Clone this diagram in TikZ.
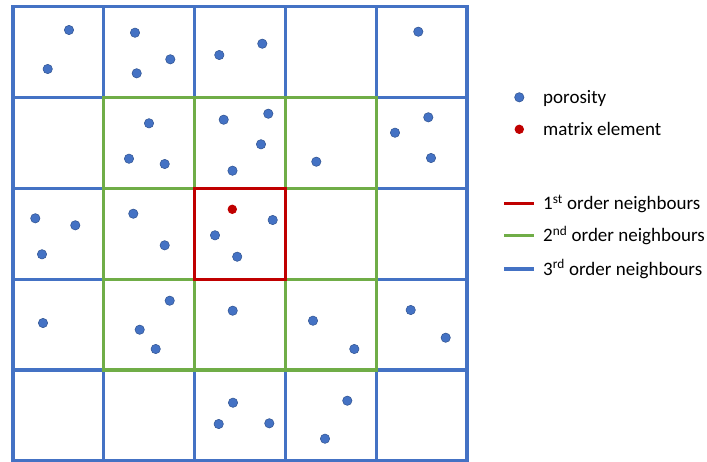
\documentclass[tikz,border=0pt]{standalone}
\usepackage{fontspec}
\setmainfont{Carlito}
\definecolor{gblue}{HTML}{4472C4}
\definecolor{gbluedark}{HTML}{2F528F}
\definecolor{ggreen}{HTML}{70AD47}
\definecolor{gred}{HTML}{C00000}
\begin{document}
\begin{tikzpicture}[x=1pt,y=-1pt,
  bluegrid/.style={draw=gblue,line width=3.2pt,line cap=rect},
  greengrid/.style={draw=ggreen,line width=3.2pt,line cap=rect},
  redbox/.style={draw=gred,line width=3.2pt,line join=miter},
  pore/.style={circle,fill=gblue,draw=gbluedark,line width=0.5pt,minimum size=9.4pt,inner sep=0pt},
  matrixdot/.style={circle,fill=gred,minimum size=9.4pt,inner sep=0pt},
  legtext/.style={anchor=base west,inner sep=0pt,font=\fontsize{19}{22}\selectfont},
  legline/.style={line width=3.2pt}]
\useasboundingbox (0,0) rectangle (707,461);
\fill[white] (0,0) rectangle (707,461);
% blue grid
\foreach \i in {0,...,5}{
  \draw[bluegrid] ({13+\i*90.8},6.7) -- ({13+\i*90.8},460.7);
  \draw[bluegrid] (13,{6.7+\i*90.8}) -- (467,{6.7+\i*90.8});
}
% green 3x3 block
\foreach \i in {1,...,4}{
  \draw[greengrid] ({13+\i*90.8},97.5) -- ({13+\i*90.8},369.9);
  \draw[greengrid] (103.8,{6.7+\i*90.8}) -- (376.2,{6.7+\i*90.8});
}
% red centre cell
\draw[redbox] (194.6,188.3) rectangle (285.4,279.1);
% porosity dots
\foreach \x/\y [count=\k] in {69/30,47.7/69,135/32.7,170.3/59.3,136.7/73.3,219.3/55,262.3/43.7,418.3/31.7,
  149/123.3,129/158.7,164.7/164,223.7/119.7,268.3/113.7,261/144.3,232.5/170.7,316.3/161.7,395/132.7,428.3/117.3,431/158,
  35.3/218.3,75.3/225.3,42/254.3,133.3/213.7,164.7/245.3,272.7/220,215/235.3,237.2/256.7,
  43/323,169.7/300.7,139.7/329.7,155.7/349,232.7/310.7,313/320.7,354.3/349,410.7/310,445.7/337.7,
  233/402.7,218.7/424,269.3/423.3,347.3/400.7,325/438.7}
  \node[pore] (p\k) at (\x,\y) {};
\node[matrixdot] (m) at (232.3,209.3) {};
% legend
\node[pore] (lp) at (519.3,97.3) {};
\node[legtext] (tp) at (543,103.5) {porosity};
\node[matrixdot] (lm) at (519.3,129.3) {};
\node[legtext] (tm) at (543,135) {matrix element};
\coordinate (r1) at (504,203.3); \coordinate (r2) at (534,203.3);
\coordinate (g1) at (504,235.5); \coordinate (g2) at (534,235.5);
\coordinate (b1) at (504,269); \coordinate (b2) at (534,269);
\draw[legline,gred] (r1) -- (r2);
\draw[legline,ggreen] (g1) -- (g2);
\draw[legline,gblue] (b1) -- (b2);
\node[legtext] (t1) at (543,209.5) {1\textsuperscript{st} order neighbours};
\node[legtext] (t2) at (543,241.5) {2\textsuperscript{nd} order neighbours};
\node[legtext] (t3) at (543,275) {3\textsuperscript{rd} order neighbours};
\end{tikzpicture}
\end{document}
